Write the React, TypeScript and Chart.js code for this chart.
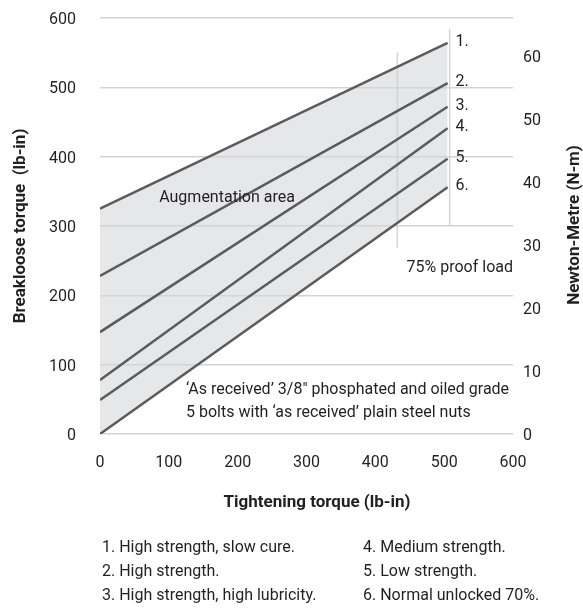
import React, { useEffect, useRef } from "react";
import { Chart, registerables } from "chart.js";

Chart.register(...registerables);

// ---- Data ----
const tighteningRange = [0, 505]; // lb-in, where every line starts and ends
const curveLabels = ["1.", "2.", "3.", "4.", "5.", "6."];
const breakloseAtStart = [325, 228, 147, 78, 49, 0];
const breakloseAtEnd = [564, 506, 472, 441, 397, 356];
const proofLoadX = [432, 508];
const proofLoadLow = [268, 300];
const proofLoadHigh = [550, 584];
const leftTicks = [0, 100, 200, 300, 400, 500, 600];
const rightTicks = [0, 10, 20, 30, 40, 50, 60];
const bottomTicks = [0, 100, 200, 300, 400, 500, 600];
const legendLeft = [
  "1. High strength, slow cure.",
  "2. High strength.",
  "3. High strength, high lubricity.",
];
const legendRight = [
  "4. Medium strength.",
  "5. Low strength.",
  "6. Normal unlocked 70%.",
];

const FONT = "Roboto, 'Liberation Sans', sans-serif";
const TEXT = "#231f20";
const LINE = "#5b5b5b";
const GRID = "#d3d4d5";
const FILL = "#e6e7e8";

const textPlugin = {
  id: "textPlugin",
  afterDatasetsDraw(chart: any) {
    const { ctx, scales } = chart;
    const xs = scales.x;
    const ys = scales.y;
    ctx.save();
    ctx.fillStyle = TEXT;
    ctx.textBaseline = "middle";
    ctx.font = `16px ${FONT}`;
    ctx.textAlign = "left";
    curveLabels.forEach((lab, i) => {
      const px = xs.getPixelForValue(tighteningRange[1]) + 8;
      const py = ys.getPixelForValue(breakloseAtEnd[i]);
      ctx.fillText(lab, px, py - 1);
    });
    ctx.fillText("Augmentation area", xs.getPixelForValue(86), ys.getPixelForValue(341));
    ctx.textAlign = "right";
    ctx.fillText("75% proof load", xs.getPixelForValue(600), ys.getPixelForValue(240));
    ctx.textAlign = "left";
    ctx.fillText(
      "\u2018As received\u2019 3/8\" phosphated and oiled grade",
      xs.getPixelForValue(125),
      ys.getPixelForValue(63)
    );
    ctx.fillText(
      "5 bolts with \u2018as received\u2019 plain steel nuts",
      xs.getPixelForValue(125),
      ys.getPixelForValue(30)
    );
    ctx.restore();
  },
  afterDraw(chart: any) {
    const { ctx } = chart;
    ctx.save();
    ctx.fillStyle = TEXT;
    ctx.textBaseline = "middle";
    ctx.font = `bold 17px ${FONT}`;
    ctx.textAlign = "center";
    ctx.fillText("Tightening torque (lb-in)", 317, 503);
    ctx.save();
    ctx.translate(21, 226);
    ctx.rotate(-Math.PI / 2);
    ctx.fillText("Breakloose torque  (lb-in)", 0, 0);
    ctx.restore();
    ctx.save();
    ctx.translate(575, 225);
    ctx.rotate(-Math.PI / 2);
    ctx.fillText("Newton-Metre (N-m)", 0, 0);
    ctx.restore();
    ctx.font = `16px ${FONT}`;
    ctx.textAlign = "left";
    legendLeft.forEach((t, i) => ctx.fillText(t, 102, 548 + i * 24));
    legendRight.forEach((t, i) => ctx.fillText(t, 363, 548 + i * 24));
    ctx.restore();
  },
};

export default function App() {
  const ref = useRef<HTMLCanvasElement | null>(null);
  useEffect(() => {
    if (!ref.current) return;
    const curveSets = curveLabels.map((lab, i) => ({
      label: lab,
      data: [
        { x: tighteningRange[0], y: breakloseAtStart[i] },
        { x: tighteningRange[1], y: breakloseAtEnd[i] },
      ],
      borderColor: LINE,
      borderWidth: 2.5,
      pointRadius: 0,
      backgroundColor: FILL,
      fill: i === 0 ? 5 : false,
      yAxisID: "y",
    }));
    const proofSets = proofLoadX.map((x, i) => ({
      label: "proof" + i,
      data: [
        { x, y: proofLoadLow[i] },
        { x, y: proofLoadHigh[i] },
      ],
      borderColor: GRID,
      borderWidth: 1.5,
      pointRadius: 0,
      fill: false,
      yAxisID: "y",
    }));
    const chart = new Chart(ref.current, {
      type: "line",
      data: { datasets: [...curveSets, ...proofSets] as any },
      options: {
        animation: false,
        responsive: false,
        devicePixelRatio: 1,
        layout: { padding: { top: 18, left: 0, right: 0, bottom: 0 } },
        plugins: {
          legend: { display: false },
          tooltip: { enabled: false },
          filler: { drawTime: "beforeDraw" } as any,
        },
        scales: {
          x: {
            type: "linear",
            min: 0,
            max: 600,
            afterBuildTicks: (s: any) => {
              s.ticks = bottomTicks.map((v) => ({ value: v }));
            },
            afterFit: (s: any) => {
              s.height = 176;
            },
            grid: { display: false, drawTicks: false },
            border: { display: false },
            ticks: {
              padding: 19,
              color: TEXT,
              font: { family: FONT, size: 16 },
              maxRotation: 0,
            },
          },
          y: {
            type: "linear",
            position: "left",
            min: 0,
            max: 600,
            afterBuildTicks: (s: any) => {
              s.ticks = leftTicks.map((v) => ({ value: v }));
            },
            afterFit: (s: any) => {
              s.width = 100;
            },
            grid: {
              color: GRID,
              lineWidth: 1.5,
              drawTicks: true,
              tickLength: 24,
              tickColor: "rgba(0,0,0,0)",
            },
            border: { display: false },
            ticks: {
              padding: 0,
              labelOffset: 2,
              color: TEXT,
              font: { family: FONT, size: 16 },
            },
          },
          y2: {
            type: "linear",
            position: "right",
            min: 0,
            max: 66,
            afterBuildTicks: (s: any) => {
              s.ticks = rightTicks.map((v) => ({ value: v }));
            },
            afterFit: (s: any) => {
              s.width = 70;
            },
            grid: {
              display: true,
              drawOnChartArea: false,
              drawTicks: true,
              tickLength: 10,
              tickColor: "rgba(0,0,0,0)",
            },
            border: { display: false },
            ticks: {
              padding: 0,
              labelOffset: 2,
              color: TEXT,
              font: { family: FONT, size: 16 },
            },
          },
        },
      },
      plugins: [textPlugin],
    });
    return () => chart.destroy();
  }, []);
  return (
    <div style={{ position: "fixed", left: 0, top: 0, width: 583, height: 610, background: "#fff" }}>
      <canvas ref={ref} width={583} height={610} style={{ display: "block" }} />
    </div>
  );
}
